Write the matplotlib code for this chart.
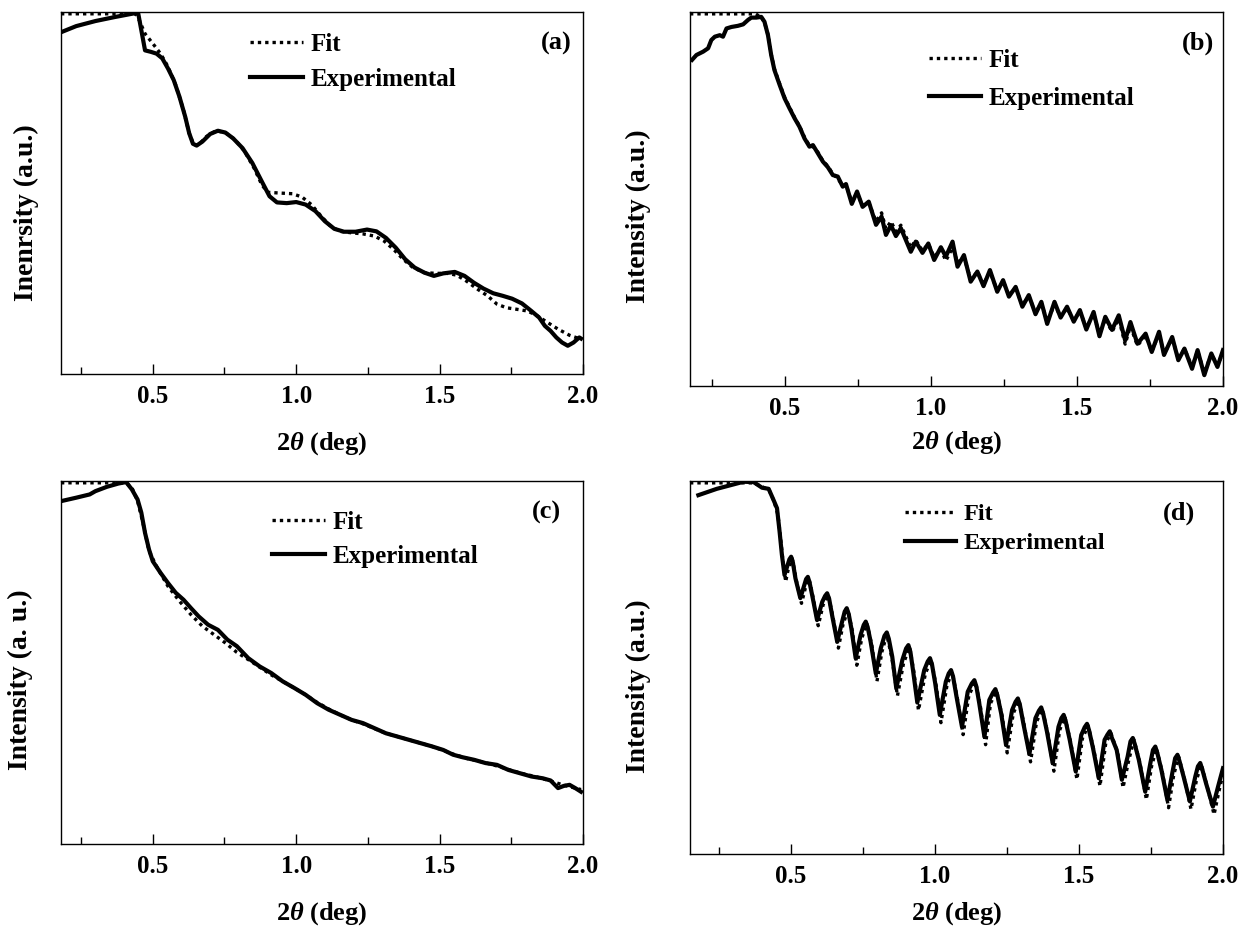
import matplotlib
matplotlib.use('Agg')
import matplotlib.pyplot as plt
from matplotlib.ticker import MultipleLocator

# Fontes no estilo Times (negrito)
plt.rcParams['font.family'] = ['Liberation Serif', 'DejaVu Serif']
plt.rcParams['font.weight'] = 'bold'
plt.rcParams['axes.labelweight'] = 'bold'
plt.rcParams['mathtext.fontset'] = 'custom'
plt.rcParams['mathtext.rm'] = 'Liberation Serif:bold'
plt.rcParams['mathtext.it'] = 'Liberation Serif:italic:bold'

# ---- (a) ----
a_exp_x = [0.183, 0.233, 0.300, 0.367, 0.440, 0.449, 0.460, 0.473, 0.493, 0.513, 0.533, 0.553, 0.573,
           0.593, 0.613, 0.627, 0.640, 0.653, 0.673, 0.700, 0.727, 0.753, 0.780, 0.813, 0.847, 0.880,
           0.907, 0.933, 0.967, 1.000, 1.033, 1.067, 1.100, 1.133, 1.167, 1.207, 1.247, 1.280, 1.313,
           1.347, 1.380, 1.413, 1.447, 1.480, 1.513, 1.553, 1.587, 1.620, 1.653, 1.687, 1.720, 1.753,
           1.787, 1.820, 1.847, 1.867, 1.887, 1.907, 1.927, 1.947, 1.967, 1.987, 1.993]
a_exp_y = [0.945, 0.961, 0.975, 0.986, 0.997, 0.997, 0.950, 0.894, 0.890, 0.885, 0.872, 0.844, 0.812,
           0.766, 0.711, 0.665, 0.636, 0.631, 0.642, 0.663, 0.672, 0.667, 0.651, 0.624, 0.583, 0.532,
           0.491, 0.474, 0.472, 0.475, 0.468, 0.450, 0.422, 0.401, 0.393, 0.393, 0.399, 0.394, 0.376,
           0.349, 0.317, 0.294, 0.280, 0.271, 0.278, 0.282, 0.271, 0.252, 0.236, 0.223, 0.216, 0.208,
           0.195, 0.174, 0.156, 0.133, 0.119, 0.101, 0.087, 0.078, 0.087, 0.101, 0.098]
a_fit_x = [0.18, 0.440, 0.453, 0.473, 0.500, 0.527, 0.553, 0.580, 0.607, 0.627, 0.643, 0.660, 0.687,
           0.720, 0.753, 0.787, 0.820, 0.853, 0.880, 0.900, 0.940, 0.987, 1.020, 1.053, 1.087, 1.120,
           1.153, 1.193, 1.233, 1.273, 1.307, 1.340, 1.373, 1.407, 1.447, 1.487, 1.527, 1.560, 1.593,
           1.633, 1.667, 1.700, 1.733, 1.767, 1.807, 1.840, 1.873, 1.913, 1.953, 1.993]
a_fit_y = [0.995, 0.995, 0.977, 0.940, 0.913, 0.885, 0.849, 0.798, 0.729, 0.665, 0.633, 0.633, 0.656,
           0.672, 0.667, 0.647, 0.615, 0.569, 0.523, 0.502, 0.500, 0.498, 0.489, 0.468, 0.436, 0.408,
           0.394, 0.390, 0.387, 0.381, 0.367, 0.344, 0.317, 0.294, 0.280, 0.278, 0.278, 0.273, 0.257,
           0.234, 0.216, 0.193, 0.183, 0.179, 0.174, 0.161, 0.144, 0.124, 0.107, 0.096]

# ---- (b) ----
b_exp_x = [0.182, 0.197, 0.220, 0.237, 0.248, 0.260, 0.277, 0.288, 0.300, 0.317, 0.339, 0.357, 0.374,
           0.385, 0.402, 0.419, 0.430, 0.442, 0.453, 0.464, 0.482, 0.499, 0.516, 0.533, 0.550, 0.567,
           0.584, 0.596, 0.613, 0.630, 0.647, 0.664, 0.681, 0.698, 0.709, 0.729, 0.747, 0.766, 0.787,
           0.812, 0.831, 0.846, 0.863, 0.880, 0.897, 0.931, 0.948, 0.971, 0.991, 1.011, 1.034, 1.051,
           1.074, 1.091, 1.113, 1.136, 1.159, 1.180, 1.202, 1.227, 1.247, 1.267, 1.290, 1.313, 1.335,
           1.358, 1.378, 1.398, 1.423, 1.444, 1.466, 1.489, 1.510, 1.532, 1.557, 1.577, 1.597, 1.620,
           1.643, 1.665, 1.683, 1.707, 1.735, 1.756, 1.781, 1.798, 1.826, 1.847, 1.868, 1.894, 1.913,
           1.936, 1.960, 1.981, 2.000]
b_exp_y = [0.872, 0.885, 0.894, 0.903, 0.925, 0.934, 0.938, 0.934, 0.956, 0.960, 0.963, 0.967, 0.979,
           0.985, 0.985, 0.987, 0.974, 0.938, 0.885, 0.845, 0.805, 0.769, 0.742, 0.716, 0.693, 0.662,
           0.640, 0.644, 0.622, 0.600, 0.585, 0.564, 0.560, 0.533, 0.540, 0.487, 0.520, 0.479, 0.493,
           0.431, 0.453, 0.404, 0.430, 0.401, 0.422, 0.359, 0.386, 0.356, 0.381, 0.337, 0.371, 0.346,
           0.386, 0.319, 0.350, 0.279, 0.306, 0.267, 0.310, 0.252, 0.283, 0.239, 0.265, 0.212, 0.243,
           0.192, 0.225, 0.166, 0.225, 0.183, 0.212, 0.172, 0.203, 0.151, 0.198, 0.133, 0.185, 0.150,
           0.189, 0.122, 0.171, 0.113, 0.140, 0.091, 0.145, 0.083, 0.131, 0.069, 0.100, 0.046, 0.096,
           0.029, 0.087, 0.051, 0.096]
b_fit_x = [0.175, 0.400, 0.420, 0.430, 0.442, 0.453, 0.464, 0.482, 0.499, 0.516, 0.533, 0.550, 0.567,
           0.584, 0.600, 0.613, 0.630, 0.647, 0.664, 0.681, 0.698, 0.709, 0.729, 0.747, 0.766, 0.787,
           0.812, 0.831, 0.846, 0.863, 0.880, 0.897, 0.931, 0.948, 0.971, 0.991, 1.011, 1.034, 1.051,
           1.074, 1.091, 1.113, 1.136, 1.159, 1.180, 1.202, 1.227, 1.247, 1.267, 1.290, 1.313, 1.335,
           1.358, 1.378, 1.398, 1.423, 1.444, 1.466, 1.489, 1.510, 1.532, 1.557, 1.577, 1.597, 1.620,
           1.643, 1.665, 1.683, 1.707, 1.735, 1.756, 1.781, 1.798, 1.826, 1.847, 1.868, 1.894, 1.913,
           1.936, 1.960, 1.981, 2.000]
b_fit_y = [0.995, 0.995, 0.985, 0.972, 0.940, 0.887, 0.848, 0.808, 0.772, 0.745, 0.718, 0.695, 0.665,
           0.643, 0.638, 0.625, 0.602, 0.588, 0.567, 0.555, 0.535, 0.538, 0.492, 0.515, 0.482, 0.490,
           0.440, 0.463, 0.420, 0.440, 0.413, 0.430, 0.370, 0.390, 0.362, 0.380, 0.345, 0.365, 0.335,
           0.370, 0.330, 0.345, 0.285, 0.305, 0.272, 0.305, 0.256, 0.280, 0.243, 0.262, 0.216, 0.240,
           0.196, 0.222, 0.172, 0.218, 0.185, 0.208, 0.175, 0.200, 0.155, 0.193, 0.138, 0.180, 0.145,
           0.180, 0.112, 0.160, 0.108, 0.135, 0.092, 0.140, 0.085, 0.128, 0.072, 0.100, 0.050, 0.094,
           0.035, 0.085, 0.055, 0.090]

# ---- (c) ----
c_exp_x = [0.183, 0.233, 0.280, 0.300, 0.340, 0.380, 0.407, 0.427, 0.447, 0.460, 0.473, 0.487, 0.500,
           0.527, 0.553, 0.580, 0.607, 0.633, 0.660, 0.693, 0.727, 0.760, 0.793, 0.833, 0.873, 0.913,
           0.953, 0.993, 1.033, 1.073, 1.113, 1.153, 1.193, 1.233, 1.273, 1.313, 1.353, 1.393, 1.433,
           1.473, 1.513, 1.547, 1.580, 1.620, 1.660, 1.700, 1.740, 1.780, 1.820, 1.860, 1.887, 1.913,
           1.933, 1.953, 1.973, 1.993]
c_exp_y = [0.945, 0.954, 0.963, 0.972, 0.984, 0.993, 0.997, 0.977, 0.949, 0.913, 0.857, 0.811, 0.779,
           0.747, 0.719, 0.692, 0.673, 0.650, 0.627, 0.604, 0.590, 0.563, 0.545, 0.512, 0.489, 0.471,
           0.448, 0.430, 0.411, 0.388, 0.370, 0.356, 0.342, 0.333, 0.319, 0.305, 0.296, 0.287, 0.278,
           0.269, 0.259, 0.246, 0.239, 0.232, 0.223, 0.218, 0.204, 0.195, 0.186, 0.181, 0.175, 0.154,
           0.160, 0.163, 0.154, 0.144]
c_fit_x = [0.18, 0.407, 0.427, 0.447, 0.467, 0.487, 0.513, 0.553, 0.593, 0.633, 0.673, 0.713, 0.753,
           0.793, 0.833, 0.873, 0.913, 0.953, 0.993, 1.033, 1.073, 1.113, 1.153, 1.193, 1.233, 1.273,
           1.313, 1.353, 1.393, 1.433, 1.473, 1.513, 1.553, 1.593, 1.633, 1.673, 1.713, 1.753, 1.793,
           1.833, 1.873, 1.913, 1.953, 1.993]
c_fit_y = [0.995, 0.995, 0.982, 0.945, 0.880, 0.807, 0.765, 0.710, 0.669, 0.632, 0.600, 0.577, 0.554,
           0.528, 0.508, 0.487, 0.466, 0.448, 0.430, 0.411, 0.390, 0.372, 0.356, 0.342, 0.331, 0.318,
           0.305, 0.296, 0.287, 0.278, 0.269, 0.258, 0.246, 0.236, 0.229, 0.221, 0.212, 0.202, 0.193,
           0.186, 0.177, 0.167, 0.158, 0.150]

# ---- (d) ----
d_exp_x = [0.179, 0.243, 0.301, 0.336, 0.371, 0.400, 0.423, 0.440, 0.452, 0.461, 0.469, 0.478, 0.487,
           0.495, 0.501, 0.507, 0.516, 0.533, 0.547, 0.553, 0.559, 0.565, 0.574, 0.591, 0.609, 0.619,
           0.626, 0.633, 0.643, 0.661, 0.678, 0.687, 0.694, 0.701,
           0.710, 0.725, 0.742, 0.753, 0.760, 0.767, 0.777, 0.795, 0.812, 0.825, 0.833, 0.840, 0.852,
           0.866, 0.887, 0.900, 0.908, 0.915, 0.924,
           0.939, 0.963, 0.975, 0.983, 0.990, 1.001, 1.017, 1.038, 1.048, 1.056, 1.063, 1.075, 1.094,
           1.114, 1.128, 1.137, 1.144, 1.154, 1.172,
           1.189, 1.202, 1.210, 1.217, 1.230, 1.247, 1.268, 1.280, 1.288, 1.295, 1.307, 1.328, 1.349,
           1.361, 1.369, 1.376, 1.389, 1.409, 1.429,
           1.439, 1.447, 1.454, 1.468, 1.489, 1.508, 1.520, 1.528, 1.535, 1.549, 1.569, 1.589, 1.599,
           1.607, 1.614, 1.631, 1.649, 1.669, 1.679, 1.687, 1.694,
           1.708, 1.730, 1.748, 1.757, 1.765, 1.772, 1.786, 1.807, 1.825, 1.834, 1.842, 1.849, 1.863,
           1.885, 1.904, 1.913, 1.921, 1.928, 1.941,
           1.965, 1.983, 2.000]
d_exp_y = [0.962, 0.979, 0.991, 0.998, 0.997, 0.982, 0.979, 0.949, 0.927, 0.864, 0.802, 0.748, 0.770,
           0.790, 0.797, 0.782, 0.739, 0.686, 0.721, 0.737, 0.743, 0.728, 0.694, 0.627, 0.676, 0.692,
           0.699, 0.684, 0.641, 0.569, 0.623, 0.650, 0.659, 0.643,
           0.605, 0.525, 0.587, 0.614, 0.623, 0.607, 0.569, 0.484, 0.551, 0.585, 0.594, 0.577, 0.529,
           0.444, 0.520, 0.551, 0.560, 0.542, 0.493,
           0.406, 0.493, 0.516, 0.525, 0.508, 0.458, 0.373, 0.462, 0.484, 0.493, 0.476, 0.422, 0.341,
           0.435, 0.457, 0.466, 0.449, 0.404, 0.314,
           0.413, 0.433, 0.442, 0.425, 0.377, 0.292, 0.386, 0.408, 0.417, 0.400, 0.350, 0.268, 0.364,
           0.384, 0.393, 0.376, 0.328, 0.243, 0.341,
           0.364, 0.373, 0.356, 0.306, 0.221, 0.319, 0.340, 0.349, 0.332, 0.283, 0.203, 0.306, 0.320,
           0.329, 0.312, 0.279, 0.199, 0.261, 0.302, 0.311, 0.294,
           0.252, 0.167, 0.244, 0.279, 0.288, 0.271, 0.226, 0.145, 0.221, 0.257, 0.266, 0.249, 0.208,
           0.141, 0.208, 0.235, 0.244, 0.227, 0.190,
           0.127, 0.181, 0.230]
d_fit_x = [0.15, 0.370, 0.400, 0.425, 0.442, 0.455, 0.464, 0.472, 0.482, 0.490, 0.505, 0.520, 0.537,
           0.550, 0.563, 0.578, 0.595, 0.612, 0.630, 0.647, 0.665, 0.681, 0.698, 0.714, 0.729, 0.746,
           0.764, 0.781, 0.799, 0.816, 0.833, 0.851, 0.870, 0.891, 0.912, 0.928, 0.943, 0.967, 0.987,
           1.005, 1.021, 1.042, 1.060, 1.079, 1.098, 1.118, 1.141, 1.158, 1.176, 1.193, 1.214, 1.234,
           1.251, 1.272, 1.292, 1.311, 1.332, 1.353, 1.373, 1.393, 1.413, 1.433, 1.451, 1.472, 1.493,
           1.512, 1.532, 1.553, 1.573, 1.593, 1.611, 1.635, 1.653, 1.673, 1.691, 1.712, 1.734, 1.752,
           1.769, 1.790, 1.811, 1.829, 1.846, 1.867, 1.889, 1.908, 1.925, 1.945, 1.969, 1.987, 2.000]
d_fit_y = [0.995, 0.995, 0.985, 0.975, 0.945, 0.910, 0.850, 0.790, 0.730, 0.760, 0.792, 0.730, 0.672,
           0.712, 0.738, 0.685, 0.612, 0.668, 0.694, 0.632, 0.552, 0.615, 0.654, 0.596, 0.506, 0.578,
           0.618, 0.560, 0.463, 0.542, 0.588, 0.525, 0.424, 0.511, 0.555, 0.484, 0.385, 0.484, 0.520,
           0.449, 0.352, 0.453, 0.488, 0.413, 0.320, 0.426, 0.461, 0.395, 0.293, 0.404, 0.437, 0.368,
           0.271, 0.377, 0.412, 0.341, 0.247, 0.355, 0.388, 0.319, 0.222, 0.332, 0.368, 0.297, 0.200,
           0.310, 0.344, 0.274, 0.182, 0.297, 0.324, 0.270, 0.178, 0.252, 0.306, 0.243, 0.146, 0.235,
           0.283, 0.217, 0.124, 0.212, 0.261, 0.199, 0.120, 0.199, 0.239, 0.181, 0.106, 0.172, 0.215]

panels = [
    # tag, pos, exp, fit, xmin, ylabel, ylab_xy, xlab_y, leg_xy, leg_sp, leg_fs, tag_xy
    ('(a)', [61/1253, 1-374/930, 522/1253, 362/930], (a_exp_x, a_exp_y), (a_fit_x, a_fit_y), 0.18,
     'Inenrsity (a.u.)', (-0.043, 0.447), -0.155, (0.363, 0.942), 0.48, 18, (0.948, 0.914)),
    ('(b)', [690/1253, 1-386/930, 533/1253, 374/930], (b_exp_x, b_exp_y), (b_fit_x, b_fit_y), 0.175,
     'Intensity (a.u.)', (-0.073, 0.455), -0.115, (0.448, 0.901), 0.6, 18, (0.953, 0.917)),
    ('(c)', [61/1253, 1-844/930, 522/1253, 363/930], (c_exp_x, c_exp_y), (c_fit_x, c_fit_y), 0.18,
     'Intensity (a. u.)', (-0.054, 0.452), -0.154, (0.405, 0.917), 0.44, 18, (0.930, 0.912)),
    ('(d)', [690/1253, 1-854/930, 533/1253, 373/930], (d_exp_x, d_exp_y), (d_fit_x, d_fit_y), 0.15,
     'Intensity (a.u.)', (-0.073, 0.450), -0.123, (0.404, 0.941), 0.3, 17.5, (0.918, 0.914)),
]

fig = plt.figure(figsize=(12.53, 9.30), dpi=100)

for tag, pos, exp, fit, xmin, ylab, ylab_xy, xlab_y, leg_xy, leg_sp, leg_fs, tag_xy in panels:
    ax = fig.add_axes(pos)
    l_exp, = ax.plot(exp[0], exp[1], color='black', lw=3.0, solid_joinstyle='round', label='Experimental')
    l_fit, = ax.plot(fit[0], fit[1], color='black', lw=2.4, linestyle=(0, (1, 1.2)), label='Fit')
    ax.set_xlim(xmin, 2.0)
    ax.set_ylim(0, 1)
    ax.set_yticks([])
    ax.xaxis.set_major_locator(MultipleLocator(0.5))
    ax.xaxis.set_minor_locator(MultipleLocator(0.25))
    ax.tick_params(axis='x', which='both', direction='in', labelsize=18, pad=8, width=1)
    ax.tick_params(axis='x', which='major', length=7)
    ax.tick_params(axis='x', which='minor', length=5)
    for s in ax.spines.values():
        s.set_linewidth(1.0)
    ax.set_ylabel(ylab, fontsize=20, fontweight='bold')
    ax.yaxis.set_label_coords(*ylab_xy)
    ax.set_xlabel(r'2$\mathit{\theta}$ (deg)', fontsize=19, fontweight='bold')
    ax.xaxis.set_label_coords(0.5, xlab_y)
    leg = ax.legend([l_fit, l_exp], ['Fit', 'Experimental'], loc='upper left', bbox_to_anchor=leg_xy,
                    frameon=False, borderpad=0, borderaxespad=0, handlelength=2.1, handletextpad=0.3,
                    labelspacing=leg_sp,
                    prop={'family': 'Liberation Serif', 'weight': 'bold', 'size': leg_fs})
    ax.text(tag_xy[0], tag_xy[1], tag, transform=ax.transAxes, fontsize=19, fontweight='bold',
            ha='center', va='center')

plt.savefig('out.png', dpi=100)
